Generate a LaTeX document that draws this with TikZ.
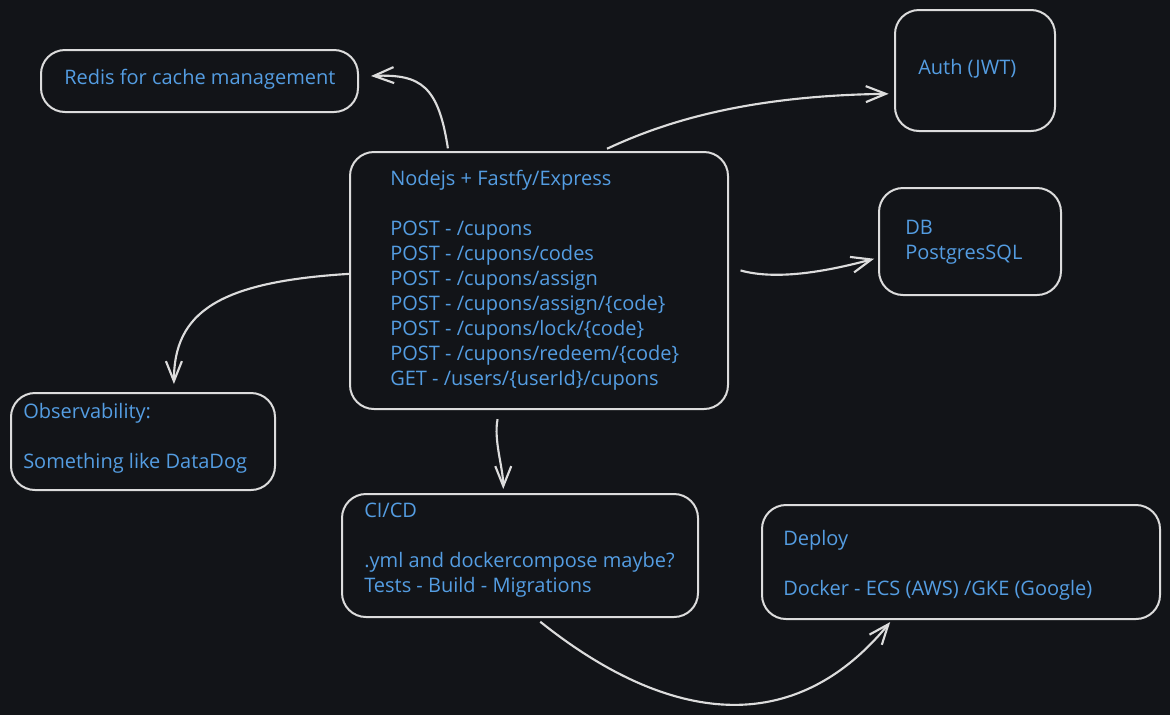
\documentclass[tikz,border=0pt]{standalone}
\usepackage{fontspec}
\setmainfont{Open Sans}
\usetikzlibrary{arrows.meta}
\definecolor{bgdark}{RGB}{18,20,24}
\definecolor{boxline}{RGB}{220,220,220}
\definecolor{txtblue}{RGB}{84,157,226}
\def\px{0.75pt}
\tikzset{
  box/.style={draw=boxline, line width=1.5pt, rounded corners=18pt, inner sep=0pt},
  txt/.style={text=txtblue, anchor=west, align=left, inner sep=0pt,
    font=\fontsize{15}{18.75}\selectfont},
  link/.style={draw=boxline, line width=1.6pt,
    -{Straight Barb[length=15pt,width=12pt]}},
}
\begin{document}
\begin{tikzpicture}[x=0.75pt, y=-0.75pt]
\useasboundingbox[fill=bgdark] (0,0) rectangle (1170,715);

\node (redis) [box, minimum width=317*\px, minimum height=62*\px] at (199.5,81) {};
\node (auth) [box, minimum width=160*\px, minimum height=121*\px] at (975,70.5) {};
\node (main) [box, minimum width=378*\px, minimum height=257*\px] at (539,280.5) {};
\node (db) [box, minimum width=182*\px, minimum height=107*\px] at (970,241.5) {};
\node (obs) [box, minimum width=264*\px, minimum height=97*\px] at (143,441.5) {};
\node (cicd) [box, minimum width=356*\px, minimum height=123*\px] at (520,555.5) {};
\node (deploy) [box, minimum width=398*\px, minimum height=114*\px] at (961,562) {};

\node (redist) [txt] at (64,79) {Redis for cache management};
\node (autht) [txt] at (918,69) {Auth (JWT)};
\node (maint) [txt] at (390,280) {Nodejs + Fastfy/Express\\\mbox{}\\
  POST - /cupons\\
  POST - /cupons/codes\\
  POST - /cupons/assign\\
  POST - /cupons/assign/\{code\}\\
  POST - /cupons/lock/\{code\}\\
  POST - /cupons/redeem/\{code\}\\
  GET - /users/\{userId\}/cupons};
\node (dbt) [txt] at (905,242) {DB\\PostgresSQL};
\node (obst) [txt] at (23,438.5) {Observability:\\\mbox{}\\Something like DataDog};
\node (cicdt) [txt] at (364,550) {CI/CD\\\mbox{}\\.yml and dockercompose maybe?\\Tests - Build - Migrations};
\node (deployt) [txt] at (783,565) {Deploy\\\mbox{}\\Docker - ECS (AWS) /GKE (Google)};

\draw[link, shorten <=2pt] (main.125) .. controls +(-10,-65) and +(50,-2) .. ([xshift=9pt,yshift=3.75pt]redis.east);
\draw[link, shorten <=4pt, shorten >=4pt] (main.64) .. controls +(60,-28) and +(-150,2) .. (auth.196);
\draw[link, shorten <=9pt, shorten >=3pt] (main.4) .. controls +(50,14) and +(-45,12) .. (db.190);
\draw[link, shorten >=6pt] (main.178) .. controls +(-130,8) and +(0,-80) .. (obs.58);
\draw[link, shorten <=7pt, shorten >=3pt] (main.253) .. controls +(-6,30) and +(0,-25) .. (cicd.105);
\draw[link, shorten <=4.5pt, shorten >=2pt] (cicd.284) .. controls +(125,100) and +(-103,125) .. (deploy.220);
\end{tikzpicture}
\end{document}
